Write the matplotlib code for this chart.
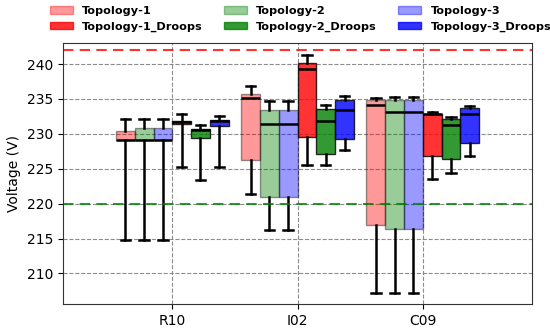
import matplotlib
matplotlib.use("Agg")
import numpy as np
from matplotlib import pyplot as plt
from matplotlib.patches import Patch

sites = ["R10", "I02", "C09"]
series = ["Topology-1", "Topology-2", "Topology-3",
          "Topology-1_Droops", "Topology-2_Droops", "Topology-3_Droops"]

# one list per series, values for R10, I02, C09
whishi = [[232.2, 236.85, 235.2], [232.2, 234.75, 235.3], [232.2, 234.75, 235.3],
          [232.8, 241.3, 233.2], [231.3, 234.2, 232.4], [232.5, 235.4, 234.0]]
q3 = [[230.4, 235.65, 234.85], [230.8, 233.4, 234.85], [230.8, 233.4, 234.85],
      [231.9, 240.1, 232.9], [230.7, 233.5, 232.1], [232.0, 234.8, 233.75]]
med = [[229.1, 235.1, 234.2], [229.1, 231.4, 233.1], [229.1, 231.4, 233.1],
       [231.7, 239.3, 232.8], [230.6, 231.9, 231.2], [231.9, 233.45, 232.9]]
q1 = [[229.1, 226.3, 217.0], [229.1, 221.0, 216.35], [229.1, 221.0, 216.35],
      [231.45, 229.6, 226.8], [229.4, 227.1, 226.4], [231.1, 229.3, 228.7]]
whislo = [[214.8, 221.4, 207.2], [214.8, 216.2, 207.2], [214.8, 216.2, 207.2],
          [225.2, 225.5, 223.55], [223.4, 225.6, 224.4], [225.2, 227.7, 226.8]]

colors = ["red", "green", "blue", "red", "green", "blue"]
alphas = [0.4, 0.4, 0.4, 0.8, 0.8, 0.8]
offsets = [-0.375, -0.225, -0.075, 0.075, 0.225, 0.375]

fig = plt.figure(figsize=(5.5, 3.32), dpi=100)
ax = fig.add_axes([0.114, 0.084, 0.854, 0.786])

x = np.arange(len(sites))
handles = {}
for i in range(len(series)):
    stats = []
    for j in range(len(sites)):
        stats.append({"whislo": whislo[i][j], "q1": q1[i][j], "med": med[i][j],
                      "q3": q3[i][j], "whishi": whishi[i][j], "fliers": []})
    ax.bxp(stats, positions=x + offsets[i], widths=0.15, patch_artist=True,
           manage_ticks=False,
           boxprops=dict(facecolor=colors[i], alpha=alphas[i], edgecolor="black", linewidth=1),
           medianprops=dict(color="black", linewidth=1.8),
           whiskerprops=dict(color="black", linewidth=1.8),
           capprops=dict(color="black", linewidth=1.8))
    handles[series[i]] = Patch(facecolor=colors[i], alpha=alphas[i], edgecolor=colors[i],
                               label=series[i])

ax.axhline(242, color="red", linestyle="--", linewidth=1.5, alpha=0.8, dashes=(5, 3))
ax.axhline(220, color="green", linestyle="--", linewidth=1.5, alpha=0.8, dashes=(5, 3))

ax.set_xticks(x)
ax.set_xticklabels(sites, fontsize=10)
ax.set_xlim(-0.875, 2.875)
ax.set_ylim(205.6, 243)
ax.set_yticks([210, 215, 220, 225, 230, 235, 240])
ax.tick_params(axis="y", labelsize=10)
ax.set_ylabel("Voltage (V)", fontsize=10)
ax.grid(axis="both", linestyle="--", linewidth=0.8, color="gray", alpha=0.9)
ax.set_axisbelow(True)
for s in ax.spines.values():
    s.set_color("#333333")

order = ["Topology-1", "Topology-1_Droops", "Topology-2", "Topology-2_Droops",
         "Topology-3", "Topology-3_Droops"]
fig.legend([handles[k] for k in order], order, loc="upper left", ncol=3,
           bbox_to_anchor=(50 / 550, 1 - 6 / 332), frameon=False, borderpad=0,
           borderaxespad=0, prop={"weight": "bold", "size": 8.1},
           columnspacing=1.9, handlelength=2.0, handletextpad=0.85, labelspacing=0.48)

plt.savefig("out.png", dpi=100)
plt.close()
